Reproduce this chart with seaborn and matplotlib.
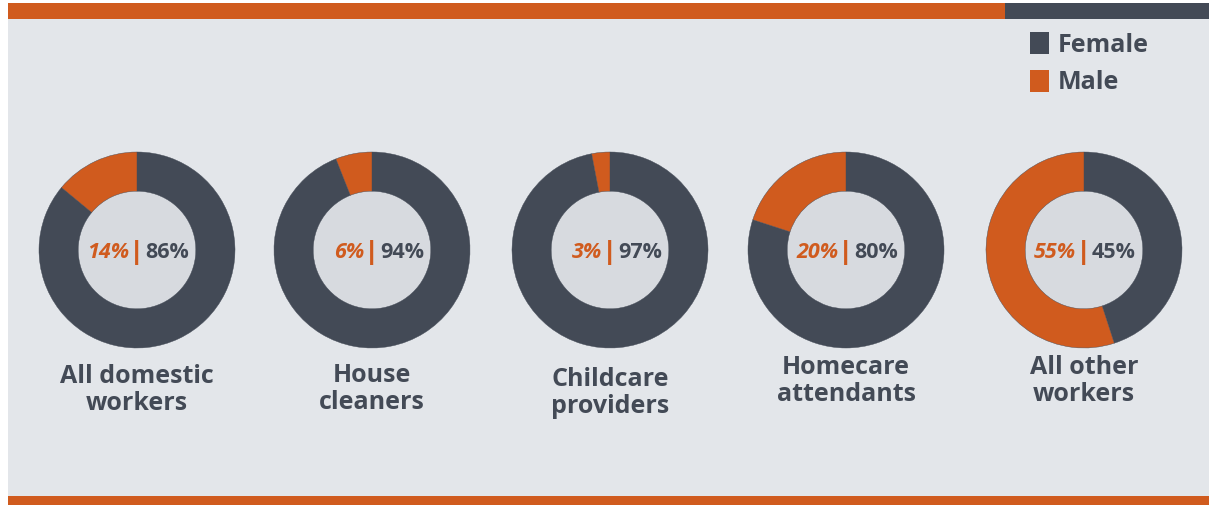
import numpy as np
import pandas as pd
import seaborn as sns
import matplotlib.pyplot as plt
from matplotlib.patches import Rectangle

# data
groups = ["All domestic\nworkers", "House\ncleaners", "Childcare\nproviders",
          "Homecare\nattendants", "All other\nworkers"]
female = [86, 94, 97, 80, 45]
male = [14, 6, 3, 20, 55]

df = pd.DataFrame({"group": groups, "Female": female, "Male": male})

sns.set_theme(style="white")
plt.rcParams["font.family"] = ["Open Sans", "DejaVu Sans"]

dark = "#434A56"
orange = "#D05B1E"
bg = "#E3E6EA"
hole = "#D7DADF"

W, H = 1209, 506
fig = plt.figure(figsize=(W / 100, H / 100), dpi=100)
fig.patch.set_facecolor("white")

def px(x, y, w, h):
    # pixel box (top-left origin) -> figure fraction rect
    return (x / W, 1 - (y + h) / H, w / W, h / H)

# background panel and bars
for (x, y, w, h), c in [((8, 20, W - 8, 477), bg), ((8, 4, 997, 16), orange),
                        ((1005, 4, W - 1005, 16), dark), ((8, 497, W - 8, 9), orange)]:
    fx, fy, fw, fh = px(x, y, w, h)
    fig.patches.append(Rectangle((fx, fy), fw, fh, transform=fig.transFigure,
                                 facecolor=c, edgecolor="none", zorder=-5))

# legend
for i, (lab, c) in enumerate([("Female", dark), ("Male", orange)]):
    fx, fy, fw, fh = px(1030, 33 + i * 38, 19, 22)
    fig.patches.append(Rectangle((fx, fy), fw, fh, transform=fig.transFigure,
                                 facecolor=c, edgecolor="none", zorder=-4))
    fig.text(1058 / W, 1 - (45 + i * 38) / H, lab, fontsize=18, fontweight="bold",
             color=dark, va="center", ha="left")

centers = [137, 372, 610, 846, 1084]
label_y = [390, 389, 393, 381, 381]
cy, r = 251, 98

for i, row in df.iterrows():
    cx = centers[i]
    ax = fig.add_axes(px(cx - r, cy - r, 2 * r, 2 * r))
    ax.set_zorder(2)
    ax.pie([row["Female"], row["Male"]], colors=[dark, orange], startangle=90,
           counterclock=False, radius=1,
           wedgeprops=dict(width=0.4, edgecolor=dark, linewidth=0.3))
    ax.add_patch(plt.Circle((0, 0), 0.6, color=hole, zorder=0))
    ax.set_xlim(-1, 1)
    ax.set_ylim(-1, 1)
    ax.set_aspect("equal")
    ax.axis("off")
    ax.text(-0.08, -0.02, f"{row['Male']}%", color=orange, fontsize=15.5, fontweight="bold",
            style="italic", ha="right", va="center")
    ax.text(0, -0.02, "|", color=orange, fontsize=17, fontweight="heavy", ha="center",
            va="center", style="italic")
    ax.text(0.08, -0.02, f"{row['Female']}%", color=dark, fontsize=15.5, fontweight="bold",
            ha="left", va="center")
    fig.text(cx / W, 1 - label_y[i] / H, row["group"], fontsize=18, fontweight="bold",
             color=dark, ha="center", va="center", linespacing=1.15)

fig.savefig("out.png", dpi=100, facecolor=fig.get_facecolor())
